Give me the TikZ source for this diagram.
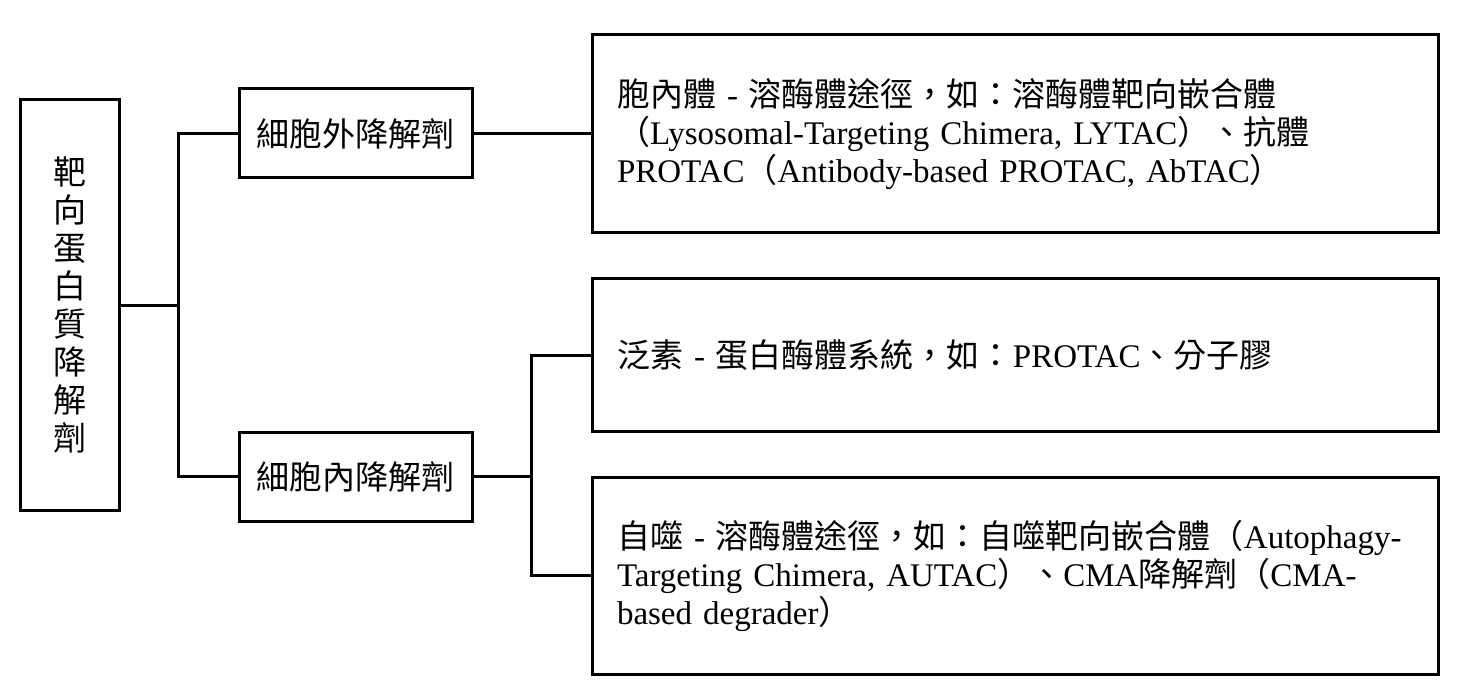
\documentclass[tikz,border=0pt]{standalone}
\usepackage{fontspec}
\setmainfont{Liberation Serif}
\newfontfamily\cjk{Noto Sans CJK TC}
\newcommand{\zh}[1]{{\cjk #1}}
\usetikzlibrary{positioning}
\tikzset{
  box/.style={draw, line width=1.5pt, inner sep=0pt},
  wide/.style={box, minimum width=423pt, align=left, text width=398pt, inner xsep=12.5pt},
  link/.style={line width=1.5pt}
}
\begin{document}
\begin{tikzpicture}[x=0.5pt, y=-0.5pt, font=\fontsize{16.5pt}{19pt}\selectfont]
\useasboundingbox (0,0) rectangle (1477,700);
% left column
\node (root) [box, minimum width=49.5pt, minimum height=205pt, align=center] at (69.5,305)
  {\zh{靶}\\\zh{向}\\\zh{蛋}\\\zh{白}\\\zh{質}\\\zh{降}\\\zh{解}\\\zh{劑}};
\node (ext) [box, minimum width=116.5pt, minimum height=44.5pt] at (355.5,133.5) {\zh{細胞外降解劑}};
\node (int) [box, minimum width=116.5pt, minimum height=44.5pt] at (355.5,476.5) {\zh{細胞內降解劑}};
% right column
\node (lyso) [wide, minimum height=99pt] at (1015,134)
  {\zh{胞內體} - \zh{溶酶體途徑，如：溶酶體靶向嵌合體}\\
   \zh{（}Lysosomal-Targeting Chimera, LYTAC\zh{）、抗體}\\
   PROTAC\zh{（}Antibody-based PROTAC, AbTAC\zh{）}};
\node (ubi) [wide, minimum height=76pt] at (1015,355)
  {\zh{泛素} - \zh{蛋白酶體系統，如：}PROTAC\zh{、分子膠}};
\node (auto) [wide, minimum height=98.5pt] at (1015,575.5)
  {\zh{自噬} - \zh{溶酶體途徑，如：自噬靶向嵌合體（}Autophagy-\\
   Targeting Chimera, AUTAC\zh{）、}CMA\zh{降解劑（}CMA-\\
   based degrader\zh{）}};
% connectors
\coordinate (j1) at (178,305);
\coordinate (j2) at (531,476.5);
\draw[link] (root.east) -- (j1);
\draw[link] (ext.west) -| (j1) |- (int.west);
\draw[link] (ext.east) -- (lyso.west |- ext.east);
\draw[link] (int.east) -- (j2);
\draw[link] (ubi.west) -| (j2) |- (auto.west);
\end{tikzpicture}
\end{document}
